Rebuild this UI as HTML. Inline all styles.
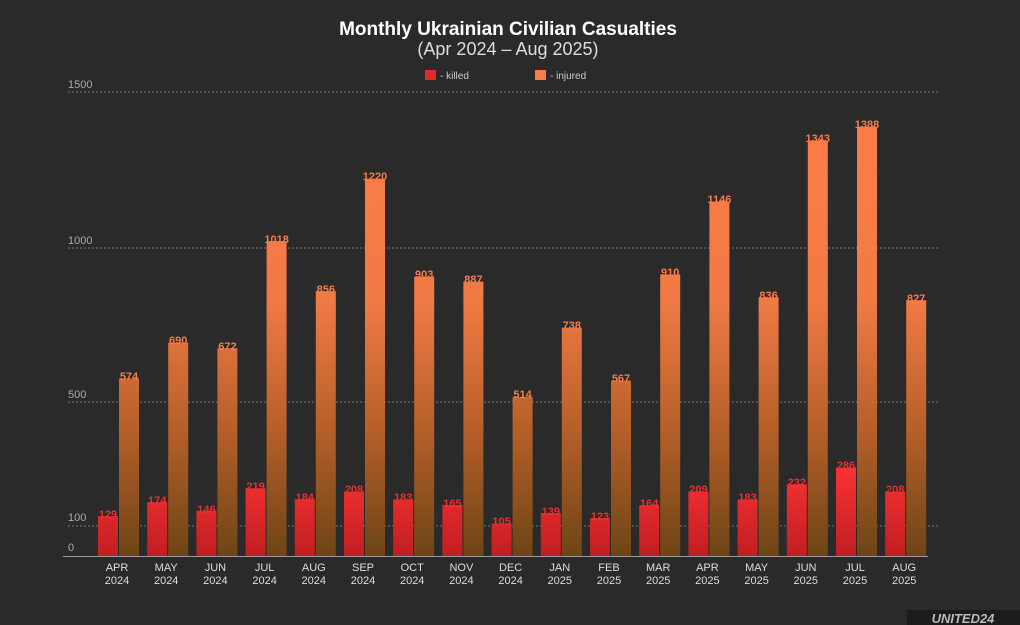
<!DOCTYPE html><html><head><meta charset="utf-8"><style>
html,body{margin:0;padding:0;background:#2a2a2a}
svg{display:block;font-family:"Liberation Sans",sans-serif}
</style></head><body>
<svg width="1020" height="625" viewBox="0 0 1020 625" xmlns="http://www.w3.org/2000/svg">
<defs>
<linearGradient id="gi" gradientUnits="userSpaceOnUse" x1="0" y1="92" x2="0" y2="556">
<stop offset="0" stop-color="#ff7d4a"/><stop offset="0.45" stop-color="#f07a45"/><stop offset="0.72" stop-color="#b8602a"/><stop offset="1" stop-color="#6e4515"/></linearGradient>
<linearGradient id="gk" gradientUnits="userSpaceOnUse" x1="0" y1="460" x2="0" y2="556">
<stop offset="0" stop-color="#ff3434"/><stop offset="1" stop-color="#c01e22"/></linearGradient>
</defs>
<rect width="1020" height="625" fill="#2a2a2a"/>
<text x="508" y="35" text-anchor="middle" fill="#fff" font-size="19" font-weight="bold">Monthly Ukrainian Civilian Casualties</text>
<text x="508" y="55" text-anchor="middle" fill="#ddd" font-size="18">(Apr 2024 – Aug 2025)</text>
<rect x="425" y="70" width="11" height="10" fill="#e12a2a"/><text x="440" y="79" fill="#ccc" font-size="10">- killed</text>
<rect x="535" y="70" width="11" height="10" fill="#f77c4a"/><text x="550" y="79" fill="#ccc" font-size="10">- injured</text>
<g stroke="#777" stroke-dasharray="2,2" stroke-width="1">
<line x1="68" y1="92" x2="938" y2="92"/><line x1="68" y1="248" x2="938" y2="248"/><line x1="68" y1="402" x2="938" y2="402"/><line x1="68" y1="526" x2="938" y2="526"/></g>
<g fill="#aaa" font-size="11"><text x="68" y="88">1500</text><text x="68" y="244">1000</text><text x="68" y="398">500</text><text x="68" y="521">100</text><text x="68" y="551">0</text></g>
<g fill="url(#gk)">
<rect x="98" y="516.1" width="20" height="39.9"/><rect x="147.2" y="502.2" width="20" height="53.8"/><rect x="196.4" y="510.8" width="20" height="45.2"/><rect x="245.6" y="488.3" width="20" height="67.7"/><rect x="294.8" y="499.1" width="20" height="56.9"/><rect x="344" y="491.7" width="20" height="64.3"/><rect x="393.2" y="499.4" width="20" height="56.6"/><rect x="442.4" y="505" width="20" height="51"/><rect x="491.6" y="523.5" width="20" height="32.5"/><rect x="540.8" y="513" width="20" height="43"/><rect x="590" y="518" width="20" height="38"/><rect x="639.2" y="505.3" width="20" height="50.7"/><rect x="688.4" y="491.4" width="20" height="64.6"/><rect x="737.6" y="499.4" width="20" height="56.6"/><rect x="786.8" y="484.2" width="20" height="71.8"/><rect x="836" y="467.5" width="20" height="88.5"/><rect x="885.2" y="491.7" width="20" height="64.3"/></g>
<g fill="url(#gi)">
<rect x="119" y="378.5" width="20" height="177.5"/><rect x="168.2" y="342.6" width="20" height="213.4"/><rect x="217.4" y="348.2" width="20" height="207.8"/><rect x="266.6" y="241.1" width="20" height="314.9"/><rect x="315.8" y="291.2" width="20" height="264.8"/><rect x="365" y="178.7" width="20" height="377.3"/><rect x="414.2" y="276.7" width="20" height="279.3"/><rect x="463.4" y="281.7" width="20" height="274.3"/><rect x="512.6" y="397" width="20" height="159"/><rect x="561.8" y="327.7" width="20" height="228.3"/><rect x="611" y="380.6" width="20" height="175.4"/><rect x="660.2" y="274.5" width="20" height="281.5"/><rect x="709.4" y="201.5" width="20" height="354.5"/><rect x="758.6" y="297.4" width="20" height="258.6"/><rect x="807.8" y="140.6" width="20" height="415.4"/><rect x="857" y="126.7" width="20" height="429.3"/><rect x="906.2" y="300.2" width="20" height="255.8"/></g>
<line x1="63" y1="556.5" x2="928" y2="556.5" stroke="#999" stroke-width="1"/>
<g fill="#e83030" font-size="11" font-weight="bold" text-anchor="middle">
<text x="108" y="518">129</text><text x="157.2" y="504">174</text><text x="206.4" y="513">146</text><text x="255.6" y="490">219</text><text x="304.8" y="501">184</text><text x="354" y="493">208</text><text x="403.2" y="501">183</text><text x="452.4" y="507">165</text><text x="501.6" y="525">105</text><text x="550.8" y="515">139</text><text x="600" y="520">123</text><text x="649.2" y="507">164</text><text x="698.4" y="493">209</text><text x="747.6" y="501">183</text><text x="796.8" y="486">232</text><text x="846" y="469">286</text><text x="895.2" y="493">208</text></g>
<g fill="#f77c4a" font-size="11" font-weight="bold" text-anchor="middle">
<text x="129" y="380">574</text><text x="178.2" y="344">690</text><text x="227.4" y="350">672</text><text x="276.6" y="243">1018</text><text x="325.8" y="293">856</text><text x="375" y="180">1220</text><text x="424.2" y="278">903</text><text x="473.4" y="283">887</text><text x="522.6" y="398">514</text><text x="571.8" y="329">738</text><text x="621" y="382">567</text><text x="670.2" y="276">910</text><text x="719.4" y="203">1146</text><text x="768.6" y="299">836</text><text x="817.8" y="142">1343</text><text x="867" y="128">1388</text><text x="916.2" y="302">827</text></g>
<g fill="#ddd" font-size="11" text-anchor="middle">
<text x="117" y="571">APR</text><text x="117" y="584">2024</text>
<text x="166.2" y="571">MAY</text><text x="166.2" y="584">2024</text>
<text x="215.4" y="571">JUN</text><text x="215.4" y="584">2024</text>
<text x="264.6" y="571">JUL</text><text x="264.6" y="584">2024</text>
<text x="313.8" y="571">AUG</text><text x="313.8" y="584">2024</text>
<text x="363" y="571">SEP</text><text x="363" y="584">2024</text>
<text x="412.2" y="571">OCT</text><text x="412.2" y="584">2024</text>
<text x="461.4" y="571">NOV</text><text x="461.4" y="584">2024</text>
<text x="510.6" y="571">DEC</text><text x="510.6" y="584">2024</text>
<text x="559.8" y="571">JAN</text><text x="559.8" y="584">2025</text>
<text x="609" y="571">FEB</text><text x="609" y="584">2025</text>
<text x="658.2" y="571">MAR</text><text x="658.2" y="584">2025</text>
<text x="707.4" y="571">APR</text><text x="707.4" y="584">2025</text>
<text x="756.6" y="571">MAY</text><text x="756.6" y="584">2025</text>
<text x="805.8" y="571">JUN</text><text x="805.8" y="584">2025</text>
<text x="855" y="571">JUL</text><text x="855" y="584">2025</text>
<text x="904.2" y="571">AUG</text><text x="904.2" y="584">2025</text></g>
<rect x="907" y="610" width="113" height="15" fill="#1c1c1c"/>
<text x="963" y="623" text-anchor="middle" fill="#bbb" font-size="13" font-weight="bold" font-style="italic">UNITED24</text>
</svg>
</body></html>
